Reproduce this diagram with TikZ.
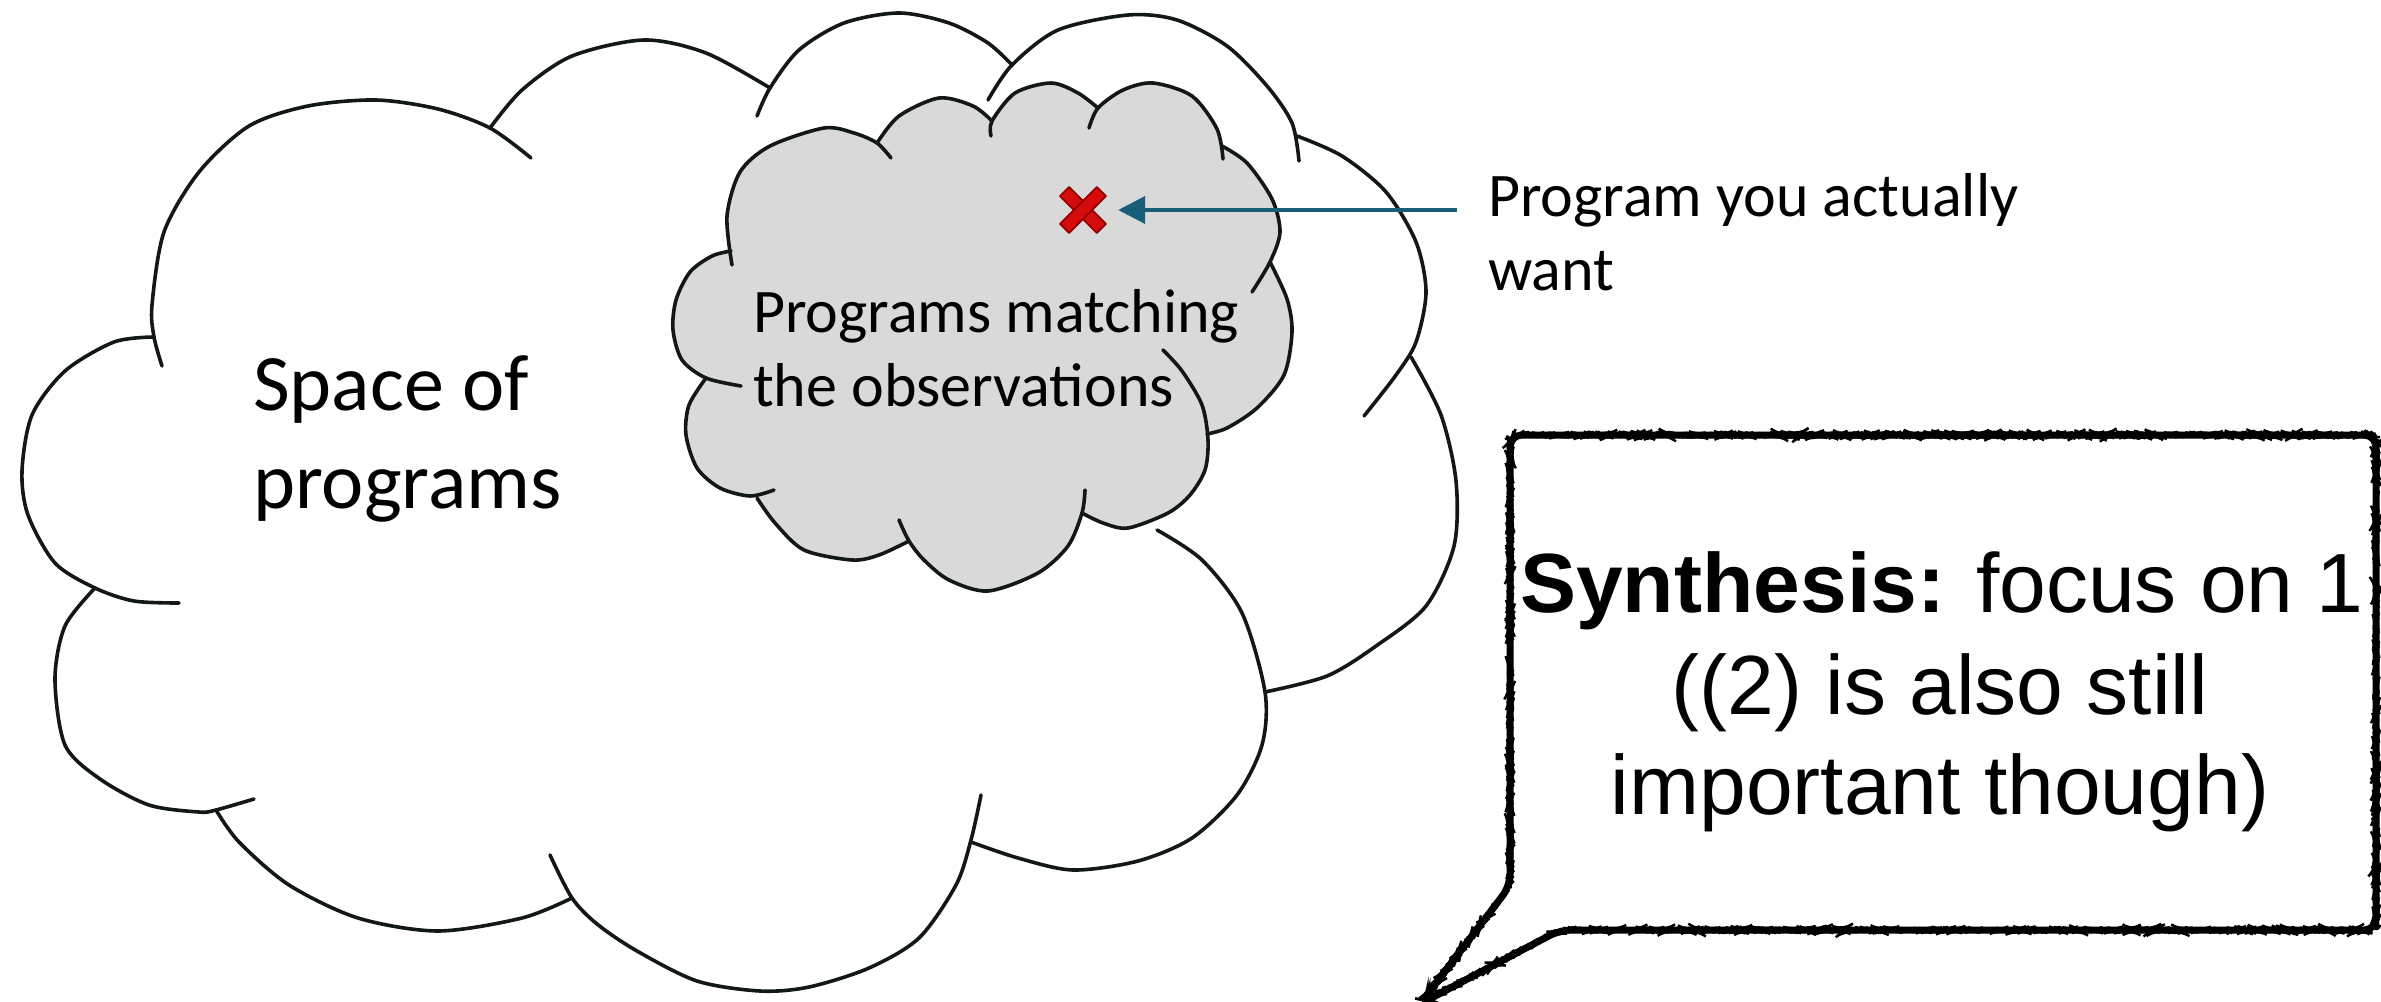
\documentclass[tikz,border=0pt]{standalone}
\usepackage{fontspec}
\newfontfamily\calfont{Carlito}
\newfontfamily\helvfont{Liberation Sans}
\usetikzlibrary{arrows.meta,decorations.pathmorphing}
\definecolor{cloudline}{RGB}{18,24,22}
\definecolor{cloudgray}{RGB}{217,217,217}
\definecolor{arrowteal}{RGB}{24,94,120}
\definecolor{xred}{RGB}{212,12,12}
\definecolor{xdark}{RGB}{150,0,0}
\pgfmathsetseed{7}
\begin{document}
\begin{tikzpicture}[x=1pt,y=-1pt,
  puff/.style={draw=cloudline, line width=3.6pt, line cap=round},
  bigtext/.style={font=\calfont\fontsize{80}{96}\selectfont, inner sep=0pt, anchor=base west},
  midtext/.style={font=\calfont\fontsize{62}{74}\selectfont, inner sep=0pt, anchor=base west},
  calltext/.style={font=\helvfont\fontsize{84}{100}\selectfont, inner sep=0pt, anchor=base},
  sketchline/.style={draw=black, line width=7pt, line join=round, rounded corners=12pt},
  sketchedge/.style={draw=black, line width=2.4pt, rounded corners=12pt, decorate,
    decoration={random steps, segment length=3.5pt, amplitude=1pt}},
  xbar/.style={fill=xred, draw=xdark, line width=1.8pt, line join=round}]
\useasboundingbox (0,0) rectangle (2381,1001);

% ---- big cloud: space of programs ----
\draw[puff] plot[smooth] coordinates {(162,366) (154,337) (152,305) (164,232) (199,172) (249,126) (308,106) (376,100) (438,109) (490,128) (531,158)};
\draw[puff] plot[smooth] coordinates {(490,128) (522,90) (572,56) (644,40) (706,53) (770,88)};
\draw[puff] plot[smooth] coordinates {(757,116) (770,88) (799,50) (844,23) (899,13) (949,23) (988,43) (1012,65)};
\draw[puff] plot[smooth] coordinates {(988,100) (1012,65) (1058,30) (1128,15) (1177,20) (1227,46) (1267,86) (1292,123) (1299,161)};
\draw[puff] plot[smooth] coordinates {(1297,136) (1342,156) (1386,192) (1416,242) (1426,292) (1416,342) (1396,375) (1364,416)};
\draw[puff] plot[smooth] coordinates {(1411,357) (1441,415) (1456,481) (1454,546) (1426,606) (1376,646) (1327,676) (1265,692)};
\draw[puff] plot[smooth] coordinates {(1157,530) (1202,560) (1242,613) (1265,692) (1262,745) (1237,795) (1192,838) (1138,861) (1073,870) (1018,858) (971,842)};
\draw[puff] plot[smooth] coordinates {(981,795) (971,840) (956,885) (919,938) (869,968) (809,987) (760,991) (697,981) (637,951) (597,924) (572,898) (550,855)};
\draw[puff] plot[smooth] coordinates {(216,810) (239,842) (289,885) (358,918) (438,931) (522,918) (572,898)};
\draw[puff] plot[smooth] coordinates {(95,588) (65,626) (55,679) (65,745) (100,779) (149,805) (199,812) (216,810) (254,799)};
\draw[puff] plot[smooth] coordinates {(154,337) (114,342) (65,371) (32,415) (22,471) (28,515) (55,563) (95,588) (134,601) (179,603)};

% ---- small grey cloud: programs matching the observations ----
\fill[cloudgray]
  plot[smooth] coordinates {(730,252) (727,216) (740,172) (770,146) (824,128) (854,133) (877,143)}
  -- plot[smooth] coordinates {(877,143) (899,116) (939,98) (973,106) (992,121)}
  -- plot[smooth] coordinates {(992,121) (1015,93) (1051,83) (1078,93) (1098,108)}
  -- plot[smooth] coordinates {(1098,108) (1123,90) (1153,83) (1192,96) (1217,129) (1222,146)}
  -- plot[smooth] coordinates {(1222,146) (1247,163) (1272,199) (1280,232) (1270,262)}
  -- plot[smooth] coordinates {(1270,262) (1287,299) (1292,332) (1284,375) (1257,408) (1227,428) (1207,434)}
  -- plot[smooth] coordinates {(1207,434) (1205,470) (1190,495) (1168,513) (1128,528) (1103,523) (1082,513)}
  -- plot[smooth] coordinates {(1082,513) (1068,546) (1038,573) (988,591) (949,580) (924,560) (909,541)}
  -- plot[smooth] coordinates {(909,541) (879,555) (852,560) (804,550) (775,523) (757,498)}
  -- plot[smooth] coordinates {(757,497) (720,488) (697,468) (686,435) (689,405) (706,378)}
  -- plot[smooth] coordinates {(706,378) (682,360) (673,330) (676,300) (690,272) (712,256) (731,251)}
  -- cycle;
\draw[puff] plot[smooth] coordinates {(732,265) (727,216) (740,172) (770,146) (824,128) (854,133) (877,143) (891,158)};
\draw[puff] plot[smooth] coordinates {(877,143) (899,116) (939,98) (973,106) (992,121)};
\draw[puff] plot[smooth] coordinates {(991,136) (992,121) (1015,93) (1051,83) (1078,93) (1098,108)};
\draw[puff] plot[smooth] coordinates {(1089,128) (1098,108) (1123,90) (1153,83) (1192,96) (1217,129) (1223,159)};
\draw[puff] plot[smooth] coordinates {(1222,146) (1247,163) (1272,199) (1280,232) (1270,262) (1252,292)};
\draw[puff] plot[smooth] coordinates {(1270,262) (1287,299) (1292,332) (1284,375) (1257,408) (1227,428) (1207,434)};
\draw[puff] plot[smooth] coordinates {(1163,350) (1182,371) (1202,405) (1208,440) (1205,470) (1190,495) (1168,513) (1128,528) (1103,523) (1082,513)};
\draw[puff] plot[smooth] coordinates {(1085,490) (1082,513) (1068,546) (1038,573) (988,591) (949,580) (924,560) (909,541) (899,520)};
\draw[puff] plot[smooth] coordinates {(909,541) (879,555) (852,560) (804,550) (775,523) (757,498)};
\draw[puff] plot[smooth] coordinates {(706,378) (689,405) (686,435) (697,468) (720,488) (750,496) (774,490)};
\draw[puff] plot[smooth] coordinates {(731,251) (712,256) (690,272) (676,300) (673,330) (682,360) (706,378) (741,386)};

% ---- labels inside the clouds ----
\node[bigtext] (space1) at (253,410) {Space of};
\node[bigtext] (space2) at (253,508) {programs};
\node[midtext] (match1) at (753,332) {Programs matching};
\node[midtext] (match2) at (753,406) {the observations};

% ---- the wanted program: red cross and pointer ----
\node[minimum size=46pt, inner sep=0pt] (xmark) at (1083,210) {};
\filldraw[xbar] ([shift={(22.98,13.78)}]xmark.center) -- ([shift={(13.78,22.98)}]xmark.center)
  -- ([shift={(-22.98,-13.78)}]xmark.center) -- ([shift={(-13.78,-22.98)}]xmark.center) -- cycle;
\filldraw[xbar] ([shift={(22.98,-13.78)}]xmark.center) -- ([shift={(13.78,-22.98)}]xmark.center)
  -- ([shift={(-22.98,13.78)}]xmark.center) -- ([shift={(-13.78,22.98)}]xmark.center) -- cycle;

\node[midtext] (want1) at (1488,216) {Program you actually};
\node[midtext] (want2) at (1488,290) {want};
\coordinate (pointerstart) at (1457,210);
\draw[arrowteal, line width=4pt, -{Triangle[length=27pt,width=27pt]}]
  (pointerstart) -- ([xshift=12pt]xmark.east);

% ---- hand-drawn speech bubble ----
\path[fill=white] (1510,435) -- (2376,435) -- (2376,930) -- (1560,930) -- (1420,1004) -- (1510,886) -- cycle;
\draw[sketchline] (1510,435) -- (2376,435) -- (2376,930) -- (1560,930) -- (1420,1004) -- (1510,886) -- cycle;
\draw[sketchedge] (1510,435) -- (2376,435) -- (2376,930) -- (1560,930) -- (1420,1004) -- (1510,886) -- cycle;
\draw[sketchedge] (1510,435) -- (2376,435) -- (2376,930) -- (1560,930) -- (1420,1004) -- (1510,886) -- cycle;

\node[calltext] (syn1) at (1942,612) {\textbf{Synthesis:} focus on 1};
\node[calltext] (syn2) at (1940,714) {((2) is also still};
\node[calltext] (syn3) at (1940,814) {important though)};
\end{tikzpicture}
\end{document}
